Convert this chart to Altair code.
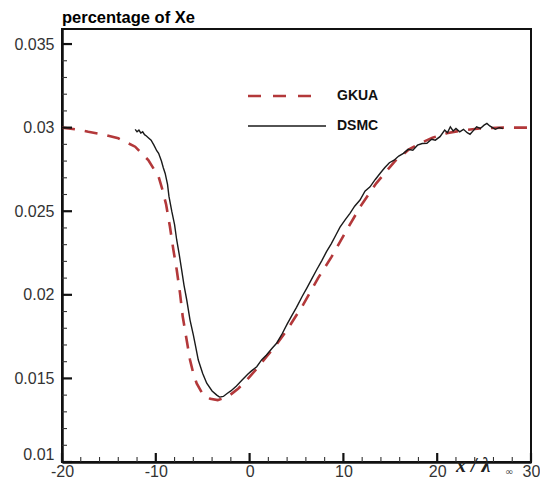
import altair as alt
import pandas as pd

# ---------------- data ----------------
gkua_x = [-20, -18.5, -17.2, -15.5, -14.0, -12.2, -10.8, -9.7, -9.3, -8.9, -8.5, -8.13,
          -7.77, -7.42, -7.13, -6.89, -6.35, -6.0, -5.64, -4.94, -4.2, -3.4, -2.6, -2.1,
          -1.2, -0.3, 0.8, 1.8, 2.9, 4.0, 5.7, 7.3, 8.75, 10.35, 11.8, 13.5, 15.5, 17.0,
          18.2, 19.5, 21.0, 22.5, 24.5, 27.0, 30.0]
gkua_y = [0.03000, 0.02990, 0.02975, 0.02958, 0.02936, 0.02886, 0.02806, 0.02706, 0.02630,
          0.02540, 0.02410, 0.02270, 0.02150, 0.02010, 0.01870, 0.01790, 0.01610, 0.01530,
          0.01470, 0.01400, 0.01378, 0.01370, 0.01385, 0.01400, 0.01440, 0.01490, 0.01560,
          0.01630, 0.01705, 0.01790, 0.01940, 0.02100, 0.02228, 0.02387, 0.02527, 0.02667,
          0.02800, 0.02870, 0.02906, 0.02940, 0.02966, 0.02982, 0.02995, 0.03000, 0.03000]

dsmc_x = [-12.2, -12.0, -11.8, -11.6, -11.4, -11.2, -11.0, -10.8, -10.5, -10.2, -9.9, -9.7,
          -9.4, -9.2, -9.0, -8.75, -8.6, -8.3, -8.0, -7.77, -7.5, -7.24, -7.0, -6.7, -6.35,
          -6.0, -5.75, -5.47, -5.0, -4.57, -4.0, -3.5, -3.2, -2.8, -2.4, -2.0, -1.4, -0.8,
          -0.2, 0.2, 0.76, 1.3, 1.8, 2.4, 2.9, 3.5, 4.0, 4.5, 5.0, 5.6, 6.1, 6.6, 7.15, 7.7,
          8.2, 8.7, 9.2, 9.64, 10.2, 10.7, 11.2, 11.77, 12.3, 12.84, 13.4, 13.9, 14.4, 14.9,
          15.4, 15.9, 16.4, 16.9, 17.4, 17.9, 18.4, 18.9, 19.4, 19.8, 20.3, 20.8, 21.1, 21.4,
          21.7, 22.0, 22.4, 22.8, 23.2, 23.5, 23.9, 24.2, 24.6, 25.0, 25.3, 25.6, 25.9, 26.2,
          26.6, 27.0]
dsmc_y = [0.02990, 0.02975, 0.02985, 0.02968, 0.02975, 0.02958, 0.02950, 0.02940, 0.02925,
          0.02895, 0.02862, 0.02846, 0.02800, 0.02760, 0.02726, 0.02660, 0.02590, 0.02500,
          0.02420, 0.02328, 0.02240, 0.02148, 0.02060, 0.01969, 0.01849, 0.01760, 0.01690,
          0.01610, 0.01530, 0.01471, 0.01425, 0.01400, 0.01388, 0.01392, 0.01410, 0.01425,
          0.01455, 0.01490, 0.01525, 0.01545, 0.01570, 0.01612, 0.01640, 0.01680, 0.01712,
          0.01770, 0.01825, 0.01875, 0.01925, 0.01990, 0.02040, 0.02092, 0.02150, 0.02205,
          0.02258, 0.02305, 0.02358, 0.02405, 0.02450, 0.02487, 0.02530, 0.02567, 0.02620,
          0.02646, 0.02690, 0.02726, 0.02760, 0.02790, 0.02805, 0.02830, 0.02846, 0.02870,
          0.02865, 0.02895, 0.02905, 0.02906, 0.02930, 0.02925, 0.02946, 0.02985, 0.02970,
          0.03005, 0.02980, 0.02995, 0.02975, 0.02990, 0.02970, 0.02960, 0.02985, 0.03005,
          0.02995, 0.03015, 0.03025, 0.03010, 0.03000, 0.02990, 0.03000, 0.02995]

series = ["GKUA", "DSMC"]
x_major = [-20, -10, 0, 10, 20, 30]
y_major = [0.01, 0.015, 0.02, 0.025, 0.03, 0.035]
x_minor = [v for v in range(-18, 30, 2) if v % 10 != 0]
y_minor = [round(0.01 + 0.001 * i, 3) for i in range(1, 26) if i % 5 != 0]

title_text = "percentage of Xe"
xlabel_main = "x / λ"
xlabel_sub = "∞"

# ---------------- styling ----------------
W, H = 469, 433
RED = "#b3383a"
BLACK = "#1a1a1a"
FONT = "Liberation Sans"

xs = alt.Scale(domain=[-20, 30], nice=False, zero=False)
ys = alt.Scale(domain=[0.01, 0.0359], nice=False, zero=False)

xaxis = alt.Axis(values=x_major, ticks=False, tickSize=0, grid=False, title=None,
                 labelFont=FONT, labelFontSize=16, labelColor="#333", labelPadding=1,
                 labelFlush=False, domainColor="#111", domainWidth=2.5,
                 labelExpr="datum.value + ''")
yaxis = alt.Axis(values=y_major, ticks=False, tickSize=0, grid=False, title=None,
                 labelFont=FONT, labelFontSize=16, labelColor="#333", labelPadding=8,
                 labelFlush=False, domainColor="#111", domainWidth=2.5,
                 labelBaseline={"condition": {"test": "datum.value < 0.0105", "value": "bottom"},
                                "value": "middle"},
                 labelExpr="format(datum.value, '.3~f')")

df_g = pd.DataFrame({"x": gkua_x, "y": gkua_y, "series": series[0]})
df_d = pd.DataFrame({"x": dsmc_x, "y": dsmc_y, "series": series[1]})

gk = alt.Chart(df_g).mark_line(color=RED, strokeWidth=2.6, strokeDash=[13, 10],
                               clip=True).encode(
    x=alt.X("x:Q", scale=xs, axis=xaxis),
    y=alt.Y("y:Q", scale=ys, axis=yaxis),
)
ds = alt.Chart(df_d).mark_line(color=BLACK, strokeWidth=1.4, clip=True).encode(
    x=alt.X("x:Q", scale=xs),
    y=alt.Y("y:Q", scale=ys),
)

# inward ticks
xmaj = alt.Chart(pd.DataFrame({"x": x_major})).mark_rule(color="#111", strokeWidth=2.2).encode(
    x=alt.X("x:Q", scale=xs), y=alt.value(H), y2=alt.value(H - 9))
xmin = alt.Chart(pd.DataFrame({"x": x_minor})).mark_rule(color="#333", strokeWidth=1.1).encode(
    x=alt.X("x:Q", scale=xs), y=alt.value(H), y2=alt.value(H - 5))
ymaj = alt.Chart(pd.DataFrame({"y": y_major})).mark_rule(color="#111", strokeWidth=2.2).encode(
    y=alt.Y("y:Q", scale=ys), x=alt.value(0), x2=alt.value(10))
ymin = alt.Chart(pd.DataFrame({"y": y_minor})).mark_rule(color="#333", strokeWidth=1.1).encode(
    y=alt.Y("y:Q", scale=ys), x=alt.value(0), x2=alt.value(5))

# legend
lg_red = alt.Chart(pd.DataFrame({"s": [series[0]]})).mark_rule(
    color=RED, strokeWidth=2.6, strokeDash=[13, 12]).encode(
    x=alt.value(186), x2=alt.value(250), y=alt.value(67))
lg_blk = alt.Chart(pd.DataFrame({"s": [series[1]]})).mark_rule(
    color=BLACK, strokeWidth=1.4).encode(
    x=alt.value(186), x2=alt.value(264), y=alt.value(97))
lg_t1 = alt.Chart(pd.DataFrame({"s": [series[0]]})).mark_text(
    align="left", baseline="middle", font=FONT, fontSize=14, fontWeight="bold", color="#111").encode(
    x=alt.value(275), y=alt.value(67), text="s:N")
lg_t2 = alt.Chart(pd.DataFrame({"s": [series[1]]})).mark_text(
    align="left", baseline="middle", font=FONT, fontSize=14, fontWeight="bold", color="#111").encode(
    x=alt.value(275), y=alt.value(97), text="s:N")

# title and axis label
ttl = alt.Chart(pd.DataFrame({"t": [title_text]})).mark_text(
    align="left", baseline="alphabetic", font=FONT, fontSize=16.5, fontWeight="bold",
    color="#000").encode(x=alt.value(0), y=alt.value(-6), text="t:N")
xl1 = alt.Chart(pd.DataFrame({"t": [xlabel_main]})).mark_text(
    align="left", baseline="alphabetic", font="Liberation Serif", fontSize=20,
    fontStyle="italic", fontWeight="bold", color="#222").encode(
    x=alt.value(394), y=alt.value(443), text="t:N")
xl2 = alt.Chart(pd.DataFrame({"t": [xlabel_sub]})).mark_text(
    align="left", baseline="alphabetic", font="DejaVu Sans", fontSize=10,
    color="#444").encode(x=alt.value(443), y=alt.value(446), text="t:N")

chart = alt.layer(gk, ds, xmaj, xmin, ymaj, ymin, lg_red, lg_blk, lg_t1, lg_t2,
                  ttl, xl1, xl2).properties(
    width=W, height=H,
    autosize=alt.AutoSizeParams(type="none"),
    padding={"left": 62, "top": 29, "right": 9, "bottom": 16},
    background="white",
).configure_view(stroke="#111", strokeWidth=2)

chart.save("out.html", embed_options={"renderer": "svg", "actions": False})
